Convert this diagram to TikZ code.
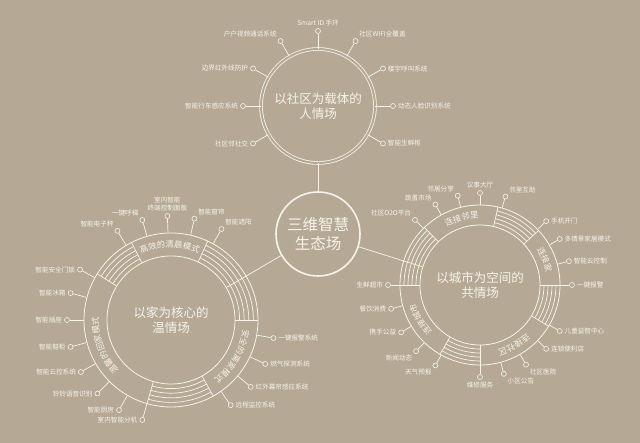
\documentclass[tikz,border=0pt]{standalone}
\usepackage{fontspec}
\newfontfamily\cjk{Noto Sans CJK SC}
\usetikzlibrary{positioning, decorations.text}

\definecolor{bgtaupe}{RGB}{181,169,149}
\definecolor{ink}{RGB}{247,243,235}
\newcommand\bandfont{\cjk\fontsize{8.4}{8.4}\selectfont\color{ink}}

\tikzset{
  wire/.style={draw=ink, line width=0.7pt},
  hub/.style={circle, draw=ink, line width=1.6pt, inner sep=0pt, minimum size=84pt,
    text=ink, align=center, font=\cjk\fontsize{15.5}{18.5}\selectfont},
  scene/.style={circle, draw=ink, line width=0.8pt, inner sep=0pt,
    text=ink, align=center, font=\cjk\fontsize{12.5}{15.5}\selectfont},
  ring/.style={circle, draw=ink, line width=0.8pt, inner sep=0pt},
  dot/.style={circle, draw=ink, line width=0.6pt, fill=bgtaupe, inner sep=0pt, minimum size=5pt},
  tag/.style={text=ink, inner sep=1pt, align=center, font=\cjk\fontsize{6.6}{7.6}\selectfont},
}

\begin{document}
\begin{tikzpicture}[x=1pt, y=1pt]
    \fill[bgtaupe] (0,0) rectangle (640,443);
    \useasboundingbox (0,0) rectangle (640,443);

    % Centre and the three scenes
    \node[hub] (C) at (318,209) {三维智慧\\生态场};
    \node[scene, double=bgtaupe, double distance=2pt, minimum size=114pt] (T) at (318,337) {以社区为载体的\\人情场};
    \node[scene, minimum size=128pt] (L) at (171,123) {以家为核心的\\温情场};
    \node[ring, minimum size=174pt] (Lo) at (L.center) {};
    \node[scene, minimum size=120pt] (R) at (480,158) {以城市为空间的\\共情场};
    \node[ring, minimum size=160pt] (Ro) at (R.center) {};

    \draw[wire] (C) -- (T);
    \draw[wire] (C) -- (L);
    \draw[wire] (C) -- (R);

    % Top circle items
    \foreach \a/\t/\p [count=\i] in {90/Smart ID 手环/above, 60/社区WIFI全覆盖/above right,
        30/楼宇呼叫系统/right, 0/动态人脸识别系统/right, 330/智能生鲜柜/right,
        120/户户视频通话系统/above left, 150/边界红外线防护/left,
        180/智能行车感应系统/left, 210/社区邻社交/left}{
      \node[dot] (dT\i) at ([shift={(\a:75)}]T.center) {};
      \draw[wire] (T.\a) -- (dT\i);
      \node[tag, \p=1pt of dT\i] (tT\i) {\t};
    }

    % Left ring: dividers, hatching, band texts
    \foreach \a in {65,117,148,254,299,0}
      \draw[wire] (L.\a) -- (Lo.\a);
    \foreach \s/\e in {117/148, 254/299, 0/65}
      \foreach \r in {68.6,73.2,77.8,82.4}
        \draw[wire] ([shift={(\s:\r)}]L.center) arc[start angle=\s, end angle=\e, radius=\r];
    \path[decorate, decoration={text along path, text align=center, text={|\bandfont|高效的清晨模式}}]
      ([shift={(117:72.5)}]L.center) arc[start angle=117, end angle=65, radius=72.5];
    \path[decorate, decoration={text along path, text align=center, text={|\bandfont|温馨的回家模式}}]
      ([shift={(254:72.5)}]L.center) arc[start angle=254, end angle=148, radius=72.5];
    \path[decorate, decoration={text along path, text align=center, text={|\bandfont|安全的离家模式}}]
      ([shift={(0:72.5)}]L.center) arc[start angle=0, end angle=-61, radius=72.5];

    % Left circle items
    \foreach \a/\t/\p [count=\i] in {61/智能遮阳/above right, 77/智能窗帘/above right,
        92/{室内智能\\终端控制面板}/above, 106/一键呼梯/above left, 121/智能电子秤/above left,
        151/智能安全门锁/left, 165/智能冰箱/left, 180/智能插座/left, 195/智能鞋柜/left,
        210/智能云控系统/left, 225/铃铃语音识别/left, 240/智能厨房/left, 254/室内智能分机/left,
        350/一键报警系统/right, 335/燃气探测系统/right, 320/红外幕帘感应系统/right,
        305/远程监控系统/right}{
      \node[dot] (dL\i) at ([shift={(\a:104)}]L.center) {};
      \draw[wire] (Lo.\a) -- (dL\i);
      \node[tag, \p=1pt of dL\i] (tL\i) {\t};
    }

    % Right ring: dividers, hatching, band texts
    \foreach \a in {77,134,43,0,329,270,240,180}
      \draw[wire] (R.\a) -- (Ro.\a);
    \foreach \s/\e in {43/77, 134/180, -31/0, -120/-90}
      \foreach \r in {64,68,72,76}
        \draw[wire] ([shift={(\s:\r)}]R.center) arc[start angle=\s, end angle=\e, radius=\r];
    \path[decorate, decoration={text along path, text align=center, text={|\bandfont|连接邻里}}]
      ([shift={(134:67)}]R.center) arc[start angle=134, end angle=77, radius=67];
    \path[decorate, decoration={text along path, text align=center, text={|\bandfont|连接家}}]
      ([shift={(43:67)}]R.center) arc[start angle=43, end angle=0, radius=67];
    \path[decorate, decoration={text along path, text align=center, text={|\bandfont|连接社区}}]
      ([shift={(-31:67)}]R.center) arc[start angle=-31, end angle=-90, radius=67];
    \path[decorate, decoration={text along path, text align=center, text={|\bandfont|连接城市}}]
      ([shift={(240:67)}]R.center) arc[start angle=240, end angle=180, radius=67];

    % Right circle items
    \foreach \a/\t/\p [count=\i] in {135/社区O2O平台/above left, 119/跳蚤市场/above left,
        104/邻居分享/above left, 90/议事大厅/above, 74/邻里互助/above right,
        44/手机开门/right, 30/多情景家居模式/right, 15/智能云控制/right, 0/一键报警/right,
        330/儿童益智中心/right, 316/连锁便利店/right, 300/社区医院/below right,
        285/小区公告/below right, 270/维修服务/below, 241/天气预报/below left,
        226/新闻动态/below left, 211/携手公益/left, 195/餐饮消费/left, 180/生鲜超市/left}{
      \node[dot] (dR\i) at ([shift={(\a:92)}]R.center) {};
      \draw[wire] (Ro.\a) -- (dR\i);
      \node[tag, \p=1pt of dR\i] (tR\i) {\t};
    }
\end{tikzpicture}
\end{document}
